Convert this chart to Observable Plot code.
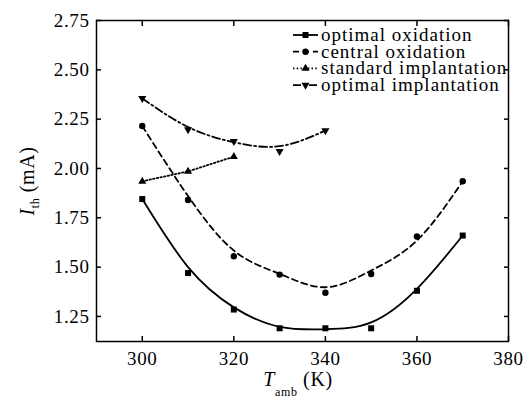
<!DOCTYPE html>
<html><head><meta charset="utf-8">
<script src="https://cdn.jsdelivr.net/npm/d3@7"></script>
<script src="https://cdn.jsdelivr.net/npm/@observablehq/plot@0.6"></script>
<style>body{margin:0;background:#fff}</style>
</head><body><div id="chart"></div>
<script>
const temps = [300,310,320,330,340,350,360,370];
const optOx = [1.845,1.47,1.285,1.19,1.19,1.19,1.38,1.66];
const optOxFit = [1.845,1.50,1.296,1.197,1.185,1.22,1.39,1.66];
const cenOx = [2.215,1.84,1.555,1.462,1.37,1.465,1.655,1.935];
const cenOxFit = [2.215,1.86,1.584,1.466,1.398,1.483,1.635,1.935];
const stdTemps = [300,310,320];
const stdImpl = [1.935,1.985,2.06];
const optImplTemps = [300,310,320,330,340];
const optImpl = [2.355,2.197,2.138,2.087,2.192];
const optImplFit = [2.355,2.21,2.133,2.113,2.192];
const xTicks = [300,320,340,360,380];
const yTicks = [1.25,1.5,1.75,2.0,2.25,2.5,2.75];
const seriesNames = ["optimal oxidation","central oxidation","standard implantation","optimal implantation"];

const FONT = "Liberation Serif";
const styles = [
  {dash:null, sym:"square", r:3.4, rot:0, sw:1.8},
  {dash:"6,4", sym:"circle", r:3.2, rot:0, sw:1.8},
  {dash:"1.5,2.2", sym:"triangle", r:3.0, rot:0, sw:1.8},
  {dash:"8,3,2,3", sym:"triangle", r:3.0, rot:180, sw:1.8}
];

const pts = (xs, ys) => xs.map((x,i)=>({x, y: ys[i]}));
const d1 = pts(temps, optOx), f1 = pts(temps, optOxFit);
const d2 = pts(temps, cenOx), f2 = pts(temps, cenOxFit);
const d3s = pts(stdTemps, stdImpl);
const d4 = pts(optImplTemps, optImpl), f4 = pts(optImplTemps, optImplFit);

const plot = Plot.plot({
  width: 531, height: 404,
  marginLeft: 96, marginRight: 23, marginTop: 20, marginBottom: 63,
  style: {fontSize: "19px", color: "black", background: "white", letterSpacing: "0.6px"},
  x: {domain: [290, 380]},
  y: {domain: [1.123, 2.75]},
  marks: [
    Plot.axisX({anchor: "bottom", ticks: xTicks, tickSize: -5, tickPadding: 15, label: null, tickFormat: d => String(d), strokeWidth: 1.5, fontFamily: FONT}),
    Plot.axisX({anchor: "top", ticks: xTicks, tickSize: -5, label: null, tickFormat: () => "", strokeWidth: 1.5}),
    Plot.axisY({anchor: "left", ticks: yTicks, tickSize: -5, tickPadding: 12, label: null, tickFormat: d => d.toFixed(2), strokeWidth: 1.5, fontFamily: FONT}),
    Plot.axisY({anchor: "right", ticks: yTicks, tickSize: -5, label: null, tickFormat: () => "", strokeWidth: 1.5}),
    Plot.line(f1, {x: "x", y: "y", curve: "natural", stroke: "black", strokeWidth: styles[0].sw}),
    Plot.line(f2, {x: "x", y: "y", curve: "natural", stroke: "black", strokeWidth: styles[1].sw, strokeDasharray: styles[1].dash}),
    Plot.line(d3s, {x: "x", y: "y", stroke: "black", strokeWidth: styles[2].sw, strokeDasharray: styles[2].dash}),
    Plot.line(f4, {x: "x", y: "y", curve: "natural", stroke: "black", strokeWidth: styles[3].sw, strokeDasharray: styles[3].dash}),
    Plot.dot(d1, {x: "x", y: "y", symbol: "square", r: styles[0].r, fill: "black"}),
    Plot.dot(d2, {x: "x", y: "y", symbol: "circle", r: styles[1].r, fill: "black"}),
    Plot.dot(d3s, {x: "x", y: "y", symbol: "triangle", r: styles[2].r, fill: "black"}),
    Plot.dot(d4, {x: "x", y: "y", symbol: "triangle", r: styles[3].r, fill: "black", rotate: 180}),
    Plot.frame({stroke: "black", strokeWidth: 1.5})
  ]
});
document.getElementById("chart").appendChild(plot);

const svg = d3.select(plot);
// Y label
const yl = svg.append("text")
  .attr("transform", "translate(34,181) rotate(-90)")
  .attr("text-anchor", "middle")
  .attr("font-size", 20).attr("fill", "black");
yl.append("tspan").attr("font-style", "italic").text("I");
yl.append("tspan").attr("dy", "5").attr("font-size", 12).text("th");
yl.append("tspan").attr("dy", "-5").text(" (mA)");
// X label
const xl = svg.append("text")
  .attr("x", 298).attr("y", 386)
  .attr("text-anchor", "middle")
  .attr("font-size", 20).attr("fill", "black");
xl.append("tspan").attr("font-style", "italic").text("T");
xl.append("tspan").attr("dy", "10").attr("font-size", 12).text("amb");
xl.append("tspan").attr("dy", "-10").text(" (K)");

// Legend
const symMap = {square: d3.symbolSquare, circle: d3.symbolCircle, triangle: d3.symbolTriangle};
const lg = svg.append("g");
seriesNames.forEach((name, i) => {
  const st = styles[i];
  const yy = 35 + i * 16.7;
  lg.append("line").attr("x1", 293).attr("x2", 318).attr("y1", yy).attr("y2", yy)
    .attr("stroke", "black").attr("stroke-width", st.sw).attr("stroke-dasharray", st.dash);
  lg.append("path").attr("d", d3.symbol(symMap[st.sym], st.r * st.r * Math.PI)())
    .attr("transform", `translate(305.5,${yy}) rotate(${st.rot})`).attr("fill", "black");
  lg.append("text").attr("x", 321).attr("y", yy + 6).attr("fill", "black")
    .attr("text-anchor", "start")
    .attr("font-size", 19).attr("letter-spacing", "1px").style("letter-spacing", "1px").text(name);
});
svg.attr("font-family", FONT);
svg.selectAll("text").attr("font-family", FONT);
</script>
</body></html>
